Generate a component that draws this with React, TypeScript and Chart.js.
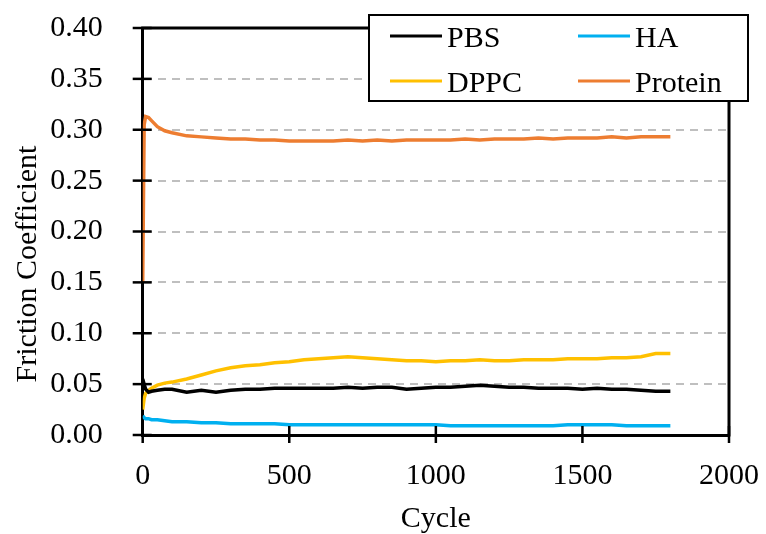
import React, { useEffect, useRef } from "react";
import { Chart, registerables } from "chart.js";

Chart.register(...registerables);

const cycles = [0, 5, 10, 20, 30, 50, 75, 100, 150, 200, 250, 300, 350, 400, 450, 500, 550, 600, 650, 700, 750, 800, 850, 900, 950, 1000, 1050, 1100, 1150, 1200, 1250, 1300, 1350, 1400, 1450, 1500, 1550, 1600, 1650, 1700, 1750, 1800];

const pbs = [0.055, 0.050, 0.045, 0.042, 0.043, 0.044, 0.045, 0.045, 0.042, 0.044, 0.042, 0.044, 0.045, 0.045, 0.046, 0.046, 0.046, 0.046, 0.046, 0.047, 0.046, 0.047, 0.047, 0.045, 0.046, 0.047, 0.047, 0.048, 0.049, 0.048, 0.047, 0.047, 0.046, 0.046, 0.046, 0.045, 0.046, 0.045, 0.045, 0.044, 0.043, 0.043];

const ha = [0.019, 0.017, 0.016, 0.016, 0.015, 0.015, 0.014, 0.013, 0.013, 0.012, 0.012, 0.011, 0.011, 0.011, 0.011, 0.010, 0.010, 0.010, 0.010, 0.010, 0.010, 0.010, 0.010, 0.010, 0.010, 0.010, 0.009, 0.009, 0.009, 0.009, 0.009, 0.009, 0.009, 0.009, 0.010, 0.010, 0.010, 0.010, 0.009, 0.009, 0.009, 0.009];

const dppc = [0.025, 0.036, 0.041, 0.044, 0.046, 0.049, 0.051, 0.052, 0.055, 0.059, 0.063, 0.066, 0.068, 0.069, 0.071, 0.072, 0.074, 0.075, 0.076, 0.077, 0.076, 0.075, 0.074, 0.073, 0.073, 0.072, 0.073, 0.073, 0.074, 0.073, 0.073, 0.074, 0.074, 0.074, 0.075, 0.075, 0.075, 0.076, 0.076, 0.077, 0.080, 0.080];

const protein = [0.150, 0.305, 0.313, 0.312, 0.309, 0.303, 0.299, 0.297, 0.294, 0.293, 0.292, 0.291, 0.291, 0.290, 0.290, 0.289, 0.289, 0.289, 0.289, 0.290, 0.289, 0.290, 0.289, 0.290, 0.290, 0.290, 0.290, 0.291, 0.290, 0.291, 0.291, 0.291, 0.292, 0.291, 0.292, 0.292, 0.292, 0.293, 0.292, 0.293, 0.293, 0.293];

const seriesNames = ["PBS", "HA", "DPPC", "Protein"];
const seriesColors = ["#000000", "#00B0F0", "#FFC000", "#ED7D31"];
const seriesValues = [pbs, ha, dppc, protein];

const yTicks = [0, 0.05, 0.1, 0.15, 0.2, 0.25, 0.3, 0.35, 0.4];
const xTicks = [0, 500, 1000, 1500, 2000];

const xTitle = "Cycle";
const yTitle = "Friction Coefficient";

const FONT = "'Liberation Serif', 'Times New Roman', serif";

const AREA = { left: 142.7, right: 729, top: 28, bottom: 435 };

const layoutPlugin = {
  id: "fixLayout",
  afterLayout(chart: any) {
    const { left: L, right: R, top: T, bottom: B } = AREA;
    chart.chartArea = { left: L, right: R, top: T, bottom: B, width: R - L, height: B - T };
    const xs = chart.scales.x;
    const ys = chart.scales.y;
    xs.left = L; xs.right = R; xs.width = R - L;
    xs.top = B; xs.bottom = 534; xs.height = 534 - B;
    ys.left = 0; ys.right = L; ys.width = L;
    ys.top = T; ys.bottom = B; ys.height = B - T;
    xs.configure();
    ys.configure();
  },
};

const decorPlugin = {
  id: "decor",
  afterDraw(chart: any) {
    const ctx = chart.ctx;
    const xs = chart.scales.x;
    const ys = chart.scales.y;
    const area = chart.chartArea;
    ctx.save();
    ctx.strokeStyle = "#000";
    ctx.lineWidth = 3;
    ctx.beginPath();
    ctx.moveTo(area.left - 1.5, area.top);
    ctx.lineTo(area.right, area.top);
    ctx.lineTo(area.right, area.bottom + 1.5);
    ctx.stroke();
    ctx.lineWidth = 2.5;
    yTicks.forEach((v) => {
      const y = ys.getPixelForValue(v);
      ctx.beginPath();
      ctx.moveTo(area.left - 10, y);
      ctx.lineTo(area.left + 9, y);
      ctx.stroke();
    });
    xTicks.forEach((v) => {
      const x = xs.getPixelForValue(v);
      ctx.beginPath();
      ctx.moveTo(x, area.bottom - 9);
      ctx.lineTo(x, area.bottom + 8);
      ctx.stroke();
    });
    ctx.fillStyle = "#000";
    ctx.font = `30px ${FONT}`;
    ctx.textAlign = "center";
    ctx.textBaseline = "alphabetic";
    ctx.fillText(xTitle, (area.left + area.right) / 2, 527);
    ctx.save();
    ctx.translate(36, 264);
    ctx.rotate(-Math.PI / 2);
    ctx.fillText(yTitle, 0, 0);
    ctx.restore();
    const lx = 369, ly = 15, lw = 379, lh = 86;
    ctx.fillStyle = "#fff";
    ctx.fillRect(lx, ly, lw, lh);
    ctx.strokeStyle = "#000";
    ctx.lineWidth = 2;
    ctx.strokeRect(lx, ly, lw, lh);
    const items = [
      { i: 0, x: 390, y: 36 },
      { i: 1, x: 578, y: 36 },
      { i: 2, x: 390, y: 81 },
      { i: 3, x: 578, y: 81 },
    ];
    ctx.textAlign = "left";
    ctx.textBaseline = "alphabetic";
    items.forEach((it) => {
      ctx.strokeStyle = seriesColors[it.i];
      ctx.lineWidth = 3;
      ctx.beginPath();
      ctx.moveTo(it.x, it.y);
      ctx.lineTo(it.x + 52, it.y);
      ctx.stroke();
      ctx.fillStyle = "#000";
      ctx.fillText(seriesNames[it.i], it.x + 57, it.y + 11);
    });
    ctx.restore();
  },
};

export default function App() {
  const ref = useRef<HTMLCanvasElement | null>(null);
  useEffect(() => {
    if (!ref.current) return;
    const chart = new Chart(ref.current, {
      type: "line",
      data: {
        datasets: seriesValues.map((vals, i) => ({
          label: seriesNames[i],
          data: cycles.map((c, j) => ({ x: c, y: vals[j] })),
          borderColor: seriesColors[i],
          backgroundColor: seriesColors[i],
          borderWidth: 3.5,
          pointRadius: 0,
          tension: 0,
          fill: false,
        })),
      },
      options: {
        animation: false,
        responsive: false,
        maintainAspectRatio: false,
        layout: { padding: 0 },
        plugins: { legend: { display: false }, tooltip: { enabled: false } },
        scales: {
          x: {
            type: "linear",
            min: 0,
            max: 2000,
            afterBuildTicks: (s: any) => { s.ticks = xTicks.map((v) => ({ value: v })); },
            ticks: {
              font: { family: FONT, size: 30 },
              color: "#000",
              padding: 23,
              maxRotation: 0,
              callback: (v: any) => String(v),
            },
            grid: { display: false, drawTicks: false },
            border: { display: true, color: "#000", width: 3 },
          },
          y: {
            type: "linear",
            min: 0,
            max: 0.4,
            afterBuildTicks: (s: any) => { s.ticks = yTicks.map((v) => ({ value: v })); },
            ticks: {
              font: { family: FONT, size: 30 },
              color: "#000",
              padding: 40,
              callback: (v: any) => Number(v).toFixed(2),
            },
            grid: {
              display: true,
              drawTicks: false,
              color: (c: any) => {
                const v = c.tick ? c.tick.value : 0;
                return v <= 0.001 || v >= 0.399 ? "rgba(0,0,0,0)" : "#BFBFBF";
              },
              lineWidth: 2,
            },
            border: { display: true, color: "#000", width: 3, dash: [8, 6] },
          },
        },
      },
      plugins: [layoutPlugin, decorPlugin],
    } as any);
    return () => chart.destroy();
  }, []);
  return (
    <div style={{ position: "fixed", left: 0, top: 0, width: 766, height: 534, background: "#fff" }}>
      <canvas ref={ref} width={766} height={534} style={{ width: 766, height: 534 }} />
    </div>
  );
}
